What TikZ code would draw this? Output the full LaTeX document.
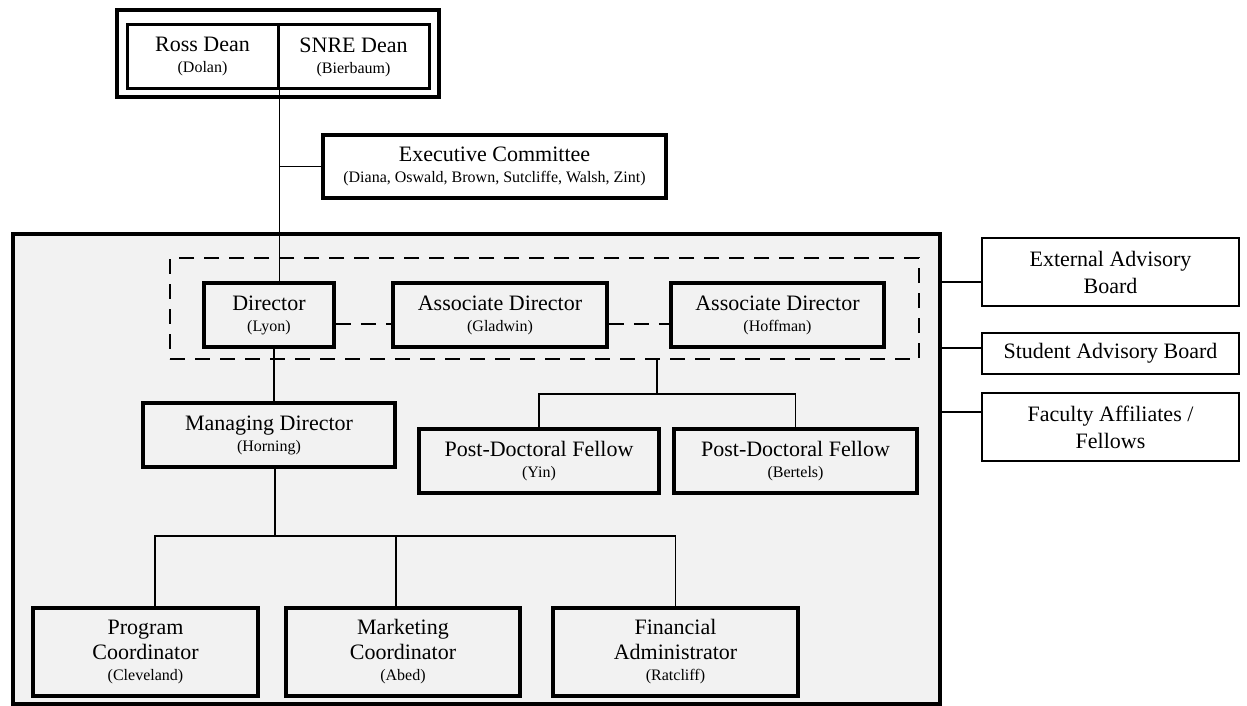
\documentclass[tikz,border=0pt]{standalone}
\usepackage{fontspec}
\setmainfont{Liberation Serif}
\definecolor{coregray}{HTML}{F2F2F2}
\newcommand{\who}[1]{\\[-4pt]{\fontsize{16}{18}\selectfont(#1)}}
\tikzset{
  rolebox/.style={draw, line width=3.5pt, align=center, inner sep=0pt,
    minimum height=64pt, font=\fontsize{22}{25}\selectfont},
  sidebox/.style={draw, line width=1.6pt, fill=white, align=center, inner sep=0pt,
    font=\fontsize{22}{27}\selectfont},
  orgline/.style={line width=1.6pt},
  dashline/.style={line width=2pt, dash pattern=on 15pt off 10pt}
}

\begin{document}
\begin{tikzpicture}[x=1pt,y=-1pt]
\fill[white] (0,0) rectangle (1247,706);
\useasboundingbox (0,0) rectangle (1247,706);

% centre
\draw[line width=4pt, fill=coregray] (13,234) rectangle (940,704);
\node[draw, dashline, minimum width=749pt, minimum height=101pt] (leaders) at (544.5,308.5) {};

% deans and committee
\node[draw, line width=4pt, fill=white, minimum width=322pt, minimum height=87pt] (deans) at (278,53.5) {};
\node[rolebox, line width=3pt, minimum width=151pt] (ross) at (202.5,57) {Ross Dean\who{Dolan}};
\node[rolebox, line width=3pt, minimum width=151pt] (snre) at (353.5,57) {SNRE Dean\who{Bierbaum}};
\node[rolebox, line width=4pt, fill=white, minimum width=343pt, minimum height=63pt] (exec) at (494.5,166.5)
  {Executive Committee\who{Diana, Oswald, Brown, Sutcliffe, Walsh, Zint}};

% leadership
\node[rolebox, minimum width=130pt] (director) at (269,315) {Director\who{Lyon}};
\node[rolebox, minimum width=214pt] (assocg) at (500,315) {Associate Director\who{Gladwin}};
\node[rolebox, minimum width=213pt] (assoch) at (777.5,315) {Associate Director\who{Hoffman}};

\node[rolebox, minimum width=252pt] (md) at (269,435) {Managing Director\who{Horning}};
\node[rolebox, minimum width=240pt] (pdyin) at (539,461) {Post-Doctoral Fellow\who{Yin}};
\node[rolebox, minimum width=243pt] (pdbertels) at (795.5,461) {Post-Doctoral Fellow\who{Bertels}};

% staff
\node[rolebox, minimum width=225pt, minimum height=88pt] (progc) at (145.5,652) {Program\\Coordinator\who{Cleveland}};
\node[rolebox, minimum width=234pt, minimum height=88pt] (mktc) at (403,652) {Marketing\\Coordinator\who{Abed}};
\node[rolebox, minimum width=245pt, minimum height=88pt] (fina) at (675.5,652) {Financial\\Administrator\who{Ratcliff}};

% boards
\node[sidebox, minimum width=257pt, minimum height=68pt] (extb) at (1110.5,272) {External Advisory\\Board};
\node[sidebox, minimum width=257pt, minimum height=41pt] (studb) at (1110.5,353.5) {Student Advisory Board};
\node[sidebox, minimum width=257pt, minimum height=68pt] (facb) at (1110.5,427) {Faculty Affiliates /\\Fellows};

% connectors
\draw[orgline] (ross.south east) -- (ross.south east |- director.north);
\draw[orgline] (exec.west) -- (exec.west -| ross.south east);
\draw[dashline] ([yshift=-9pt]director.east) -- ([yshift=-9pt]assocg.west);
\draw[dashline] ([yshift=-9pt]assocg.east) -- ([yshift=-9pt]assoch.west);
\draw[orgline] ([xshift=5pt]director.south) -- ([xshift=5pt]md.north);

\coordinate (pdsplit) at (657,394);
\draw[orgline] (leaders.south -| pdsplit) -- (pdsplit);
\draw[orgline] (pdyin.north) |- (pdsplit) -| (pdbertels.north);

\coordinate (mdsplit) at (275,536);
\draw[orgline] (md.south -| mdsplit) -- (mdsplit);
\draw[orgline] ([xshift=9.5pt]progc.north) |- (mdsplit) -| (fina.north);
\draw[orgline] ([xshift=-7pt]mktc.north) |- (mdsplit);

\coordinate (extpin) at (940,282);
\coordinate (studpin) at (940,348);
\coordinate (facpin) at (940,412);
\draw[orgline] (extpin) -- (extpin -| extb.west);
\draw[orgline] (studpin) -- (studpin -| studb.west);
\draw[orgline] (facpin) -- (facpin -| facb.west);
\end{tikzpicture}
\end{document}
